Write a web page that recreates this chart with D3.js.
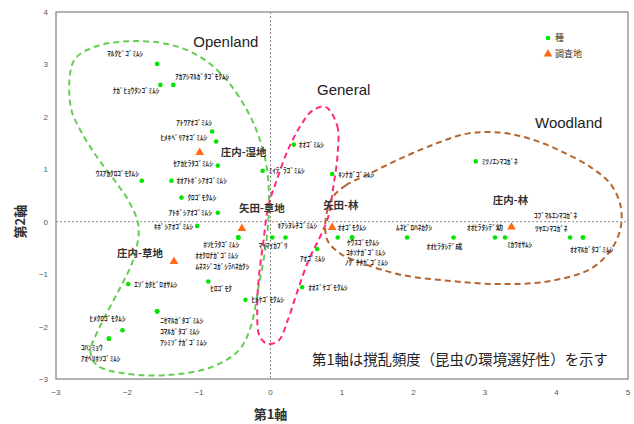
<!DOCTYPE html>
<html>
<head>
<meta charset="utf-8">
<script src="https://cdn.jsdelivr.net/npm/d3@7/dist/d3.min.js"></script>
<style>
  body { margin: 0; background: #fff; }
  svg { display: block; }
</style>
</head>
<body>
<svg id="chart" width="634" height="424"></svg>
<script>
// species scores (axis 1, axis 2)
var speciesNames = [
  "ﾏﾙｸﾋﾞｺﾞﾐﾑｼ", "ﾅｶﾞﾋｮｳﾀﾝｺﾞﾐﾑｼ", "ｱｶｱｼﾏﾙｶﾞﾀｺﾞﾓｸﾑｼ", "ｱﾄﾜｱｵｺﾞﾐﾑｼ", "ﾋﾒｷﾍﾞﾘｱｵｺﾞﾐﾑｼ",
  "ｾｱｶﾋﾗﾀｺﾞﾐﾑｼ", "ｳｽｱｶｸﾛｺﾞﾓｸﾑｼ", "ｵｵｱﾄﾎﾞｼｱｵｺﾞﾐﾑｼ", "ｸﾛｺﾞﾓｸﾑｼ", "ｱﾄﾎﾞｼｱｵｺﾞﾐﾑｼ",
  "ｷﾎﾞｼｱｵｺﾞﾐﾑｼ", "ﾎｿﾋﾗﾀｺﾞﾐﾑｼ", "ｵｵｸﾛﾅｶﾞｺﾞﾐﾑｼ", "ﾑﾈｽｼﾞｺｶﾞｼﾗﾊﾈｶｸｼ", "ｴｿﾞｶﾀﾋﾞﾛｵｻﾑｼ",
  "ﾋﾛｺﾞﾓｸ", "ﾋﾒｹｺﾞﾓｸﾑｼ", "ﾆｾﾏﾙｶﾞﾀｺﾞﾐﾑｼ", "ｺﾏﾙｶﾞﾀｺﾞﾐﾑｼ", "ｱｼﾐｿﾞﾅｶﾞｺﾞﾐﾑｼ",
  "ﾋﾒｸﾛｺﾞﾓｸﾑｼ", "ｺﾊﾝﾐｮｳ", "ｱｵﾍﾘﾎｿｺﾞﾐﾑｼ", "ﾐｲﾃﾞﾗｺﾞﾐﾑｼ", "ｵｵｺﾞﾐﾑｼ",
  "ｷﾝﾅｶﾞｺﾞﾐﾑｼ", "ﾏｲﾏｲｶﾌﾞﾘ", "ｷｱｼﾇﾚﾁｺﾞﾐﾑｼ", "ｱｵｺﾞﾐﾑｼ", "ｵｵｽﾞｹｺﾞﾓｸﾑｼ",
  "ｵｵｺﾞﾓｸﾑｼ", "ｹｳｽｺﾞﾓｸﾑｼ", "ｺﾎｿﾅｶﾞｺﾞﾐﾑｼ", "ﾉｸﾞﾁﾅｶﾞｺﾞﾐﾑｼ", "ﾑﾈﾋﾞﾛﾊﾈｶｸｼ",
  "ｵｵﾋﾗﾀｼﾃﾞ成", "ｵｵﾋﾗﾀｼﾃﾞ幼", "ﾐｶﾜｵｻﾑｼ", "ﾐﾂﾉｴﾝﾏｺｶﾞﾈ", "ﾂﾔｴﾝﾏｺｶﾞﾈ",
  "ｺﾌﾞﾏﾙｴﾝﾏｺｶﾞﾈ", "ｵｵﾏﾙｶﾞﾀｺﾞﾐﾑｼ"
];
var speciesX = [
  -1.585, -1.54, -1.36, -0.816, -0.76,
  -0.737, -1.80, -1.385, -1.245, -0.737,
  -1.025, -0.45, -0.45, -0.45, -1.99,
  -0.87, -0.35, -1.585, -1.585, -1.585,
  -2.07, -2.26, -2.26, -0.11, 0.326,
  0.862, 0.024, 0.21, 0.653, 0.443,
  0.94, 1.14, 1.14, 1.14, 1.91,
  2.56, 3.14, 3.28, 2.87, 4.19,
  4.37, 4.37
];
var speciesY = [
  3.01, 2.61, 2.61, 1.72, 1.53,
  1.07, 0.78, 0.78, 0.46, 0.17,
  -0.08, -0.30, -0.30, -0.30, -1.19,
  -1.14, -1.49, -1.71, -1.71, -1.71,
  -2.07, -2.23, -2.23, 0.97, 1.47,
  0.91, -0.30, -0.30, -0.52, -1.25,
  -0.30, -0.30, -0.30, -0.30, -0.30,
  -0.30, -0.30, -0.30, 1.15, -0.30,
  -0.30, -0.30
];

// survey sites
var siteNames = ["庄内-湿地", "矢田-草地", "矢田-林", "庄内-草地", "庄内-林"];
var siteX = [-0.99, -0.40, 0.862, -1.35, 3.37];
var siteY = [1.32, -0.13, -0.11, -0.76, -0.10];

// habitat groups and their outlines
var groupNames = ["Openland", "General", "Woodland"];
var groupX = [-1.08, 0.65, 3.70];
var groupY = [3.42, 2.52, 1.88];

var openlandX = [-2.751, -2.471, -2.004, -1.445, -0.979, -0.606, -0.326, -0.168, -0.056, -0.021,
  -0.056, -0.168, -0.28, -0.448, -0.839, -1.399, -2.004, -2.424, -2.517, -2.378,
  -2.126, -1.916, -1.846, -1.986, -2.144, -2.424, -2.657, -2.797];
var openlandY = [3.07, 3.33, 3.44, 3.39, 3.14, 2.69, 2.12, 1.64, 1.07, 0.40,
  -0.36, -1.25, -2.02, -2.46, -2.78, -2.92, -2.90, -2.74, -2.48, -1.98,
  -1.32, -0.71, -0.08, 0.40, 0.72, 1.23, 1.74, 2.21];
var generalX = [0.769, 0.933, 0.937, 0.881, 0.811, 0.699, 0.531, 0.378, 0.238, 0.112,
  -0.042, -0.154, -0.186, -0.168, -0.098, -0.028, 0.084, 0.238, 0.42, 0.587];
var generalY = [2.19, 1.83, 1.26, 0.69, 0.11, -0.27, -0.74, -1.32, -1.89, -2.27,
  -2.33, -2.18, -1.70, -1.13, -0.36, 0.31, 0.78, 1.35, 1.83, 2.12];
var woodlandX = [0.839, 1.049, 1.329, 1.748, 2.238, 2.751, 3.217, 3.636, 4.056, 4.476, 4.755,
  4.895, 4.895, 4.755, 4.476, 3.916, 3.217, 2.517, 1.818, 1.301, 0.979, 0.783];
var woodlandY = [0.40, 0.69, 0.88, 1.16, 1.45, 1.68, 1.70, 1.58, 1.35, 1.04, 0.72,
  0.31, -0.13, -0.55, -0.90, -1.13, -1.19, -1.13, -1.01, -0.80, -0.61, -0.31];

var xTicks = [-3, -2, -1, 0, 1, 2, 3, 4, 5];
var yTicks = [-3, -2, -1, 0, 1, 2, 3, 4];

// label placement next to each mark: [dx, dy, anchor]
var speciesLabelPos = [
  [-14, -10, "end"], [-1, 6, "end"], [2, -8, "start"], [0, -9, "end"], [-9, -4, "end"],
  [-5, -2, "end"], [-3, -7, "end"], [5, 0, "start"], [6, 0, "start"], [-6, 0, "end"],
  [-4, 1, "end"], [1, 7, "end"], [0, 18, "end"], [11, 29, "end"], [6, 0, "start"],
  [2, 7, "start"], [6, 0, "start"], [3, 9, "start"], [3, 20, "start"], [3, 31, "start"],
  [3, -12, "end"], [-28, 9, "start"], [-28, 20, "start"], [6, 0, "start"], [5, 0, "start"],
  [6, 0, "start"], [1, 8, "middle"], [-8, -12, "start"], [8, 10, "end"], [6, 0, "start"],
  [0, -10, "start"], [-5, 5, "start"], [-6, 15, "start"], [-7, 25.5, "start"], [-11, -10, "start"],
  [-27, 9, "start"], [8, -10, "end"], [2, 7, "start"], [6, 0, "start"], [-35, -9, "start"],
  [-49, -22, "start"], [-13, 12, "start"]
];
var siteLabelPos = [[21, 0, "start"], [-3, -20, "start"], [-9, -22, "start"], [-11, -8, "end"], [-1, -27, "middle"]];

var svg = d3.select("#chart");
var jpFont = "'Noto Sans CJK JP', sans-serif";
var latinFont = "'Liberation Sans', Arial, sans-serif";

var x = d3.scaleLinear().domain([-3, 5]).range([56, 628]);
var y = d3.scaleLinear().domain([-3, 4]).range([379, 12]);

// frame
svg.append("rect")
    .attr("x", x(-3)).attr("y", y(4))
    .attr("width", x(5) - x(-3)).attr("height", y(-3) - y(4))
    .style("fill", "none").style("stroke", "#808080").style("stroke-width", 1.2);

// zero lines
svg.append("line")
    .attr("x1", x(0)).attr("x2", x(0)).attr("y1", y(4)).attr("y2", y(-3))
    .style("stroke", "#888").style("stroke-dasharray", "2,2");
svg.append("line")
    .attr("x1", x(-3)).attr("x2", x(5)).attr("y1", y(0)).attr("y2", y(0))
    .style("stroke", "#888").style("stroke-dasharray", "2,2");

// tick labels
svg.selectAll("text.xtick").data(xTicks).enter().append("text")
    .attr("class", "xtick")
    .attr("x", function(d) { return x(d); })
    .attr("y", 395)
    .attr("text-anchor", "middle")
    .style("font-family", latinFont).style("font-size", "8px").style("fill", "#555")
    .text(function(d) { return d < 0 ? "\u2212" + (-d) : d; });
svg.selectAll("text.ytick").data(yTicks).enter().append("text")
    .attr("class", "ytick")
    .attr("x", 48)
    .attr("y", function(d) { return y(d) + 3; })
    .attr("text-anchor", "end")
    .style("font-family", latinFont).style("font-size", "8px").style("fill", "#555")
    .text(function(d) { return d < 0 ? "\u2212" + (-d) : d; });

// axis titles
svg.append("text")
    .attr("x", x(0)).attr("y", 419)
    .attr("text-anchor", "middle")
    .style("font-family", jpFont).style("font-size", "13px").style("font-weight", "bold").style("fill", "#333")
    .text("第1軸");
svg.append("text")
    .attr("transform", "translate(25," + y(0) + ") rotate(-90)")
    .attr("text-anchor", "middle")
    .style("font-family", jpFont).style("font-size", "13px").style("font-weight", "bold").style("fill", "#333")
    .text("第2軸");

// group outlines
var outline = d3.line()
    .x(function(d) { return x(d[0]); })
    .y(function(d) { return y(d[1]); })
    .curve(d3.curveCatmullRomClosed.alpha(0.5));
var outlines = [
  { xs: openlandX, ys: openlandY, color: "#66cc55" },
  { xs: generalX, ys: generalY, color: "#ff2a7f" },
  { xs: woodlandX, ys: woodlandY, color: "#b5652f" }
];
outlines.forEach(function(o) {
    var pts = o.xs.map(function(v, i) { return [v, o.ys[i]]; });
    svg.append("path")
        .attr("d", outline(pts))
        .style("fill", "none")
        .style("stroke", o.color)
        .style("stroke-width", 2)
        .style("stroke-dasharray", "6,4");
});

// group names
svg.selectAll("text.group").data(groupNames).enter().append("text")
    .attr("class", "group")
    .attr("x", function(d, i) { return x(groupX[i]); })
    .attr("y", function(d, i) { return y(groupY[i]) + 5; })
    .style("font-family", latinFont).style("font-size", "15px").style("fill", "#222")
    .text(function(d) { return d; });

// species points
svg.selectAll("circle.sp").data(speciesNames).enter().append("circle")
    .attr("class", "sp")
    .attr("cx", function(d, i) { return x(speciesX[i]); })
    .attr("cy", function(d, i) { return y(speciesY[i]); })
    .attr("r", 2.3)
    .style("fill", "#00e600");
svg.selectAll("text.sp").data(speciesNames).enter().append("text")
    .attr("class", "sp")
    .attr("x", function(d, i) { return x(speciesX[i]) + speciesLabelPos[i][0]; })
    .attr("y", function(d, i) { return y(speciesY[i]) + speciesLabelPos[i][1]; })
    .attr("dy", "0.35em")
    .attr("text-anchor", function(d, i) { return speciesLabelPos[i][2]; })
    .style("font-family", jpFont).style("font-size", "7.2px").style("font-weight", "bold").style("fill", "#333")
    .text(function(d) { return d; });

// survey sites
var tri = d3.symbol().type(d3.symbolTriangle).size(32);
svg.selectAll("path.site").data(siteNames).enter().append("path")
    .attr("class", "site")
    .attr("d", tri)
    .attr("transform", function(d, i) { return "translate(" + x(siteX[i]) + "," + y(siteY[i]) + ")"; })
    .style("fill", "#ff6a13");
svg.selectAll("text.site").data(siteNames).enter().append("text")
    .attr("class", "site")
    .attr("x", function(d, i) { return x(siteX[i]) + siteLabelPos[i][0]; })
    .attr("y", function(d, i) { return y(siteY[i]) + siteLabelPos[i][1]; })
    .attr("dy", "0.35em")
    .attr("text-anchor", function(d, i) { return siteLabelPos[i][2]; })
    .style("font-family", jpFont).style("font-size", "10.5px").style("font-weight", "bold").style("fill", "#333")
    .text(function(d) { return d; });

// legend
var legend = svg.append("g").attr("transform", "translate(548,38)");
legend.append("circle").attr("r", 2.3).style("fill", "#00e600");
legend.append("text").attr("x", 7).attr("dy", "0.35em")
    .style("font-family", jpFont).style("font-size", "9px").style("fill", "#333").text("種");
legend.append("path").attr("d", tri).attr("transform", "translate(0,16)").style("fill", "#ff6a13");
legend.append("text").attr("x", 7).attr("y", 16).attr("dy", "0.35em")
    .style("font-family", jpFont).style("font-size", "9px").style("fill", "#333").text("調査地");

// note
svg.append("text")
    .attr("x", 312).attr("y", 360).attr("dy", "0.35em")
    .style("font-family", jpFont).style("font-size", "14.4px").style("fill", "#222")
    .text("第1軸は撹乱頻度（昆虫の環境選好性）を示す");
</script>
</body>
</html>
